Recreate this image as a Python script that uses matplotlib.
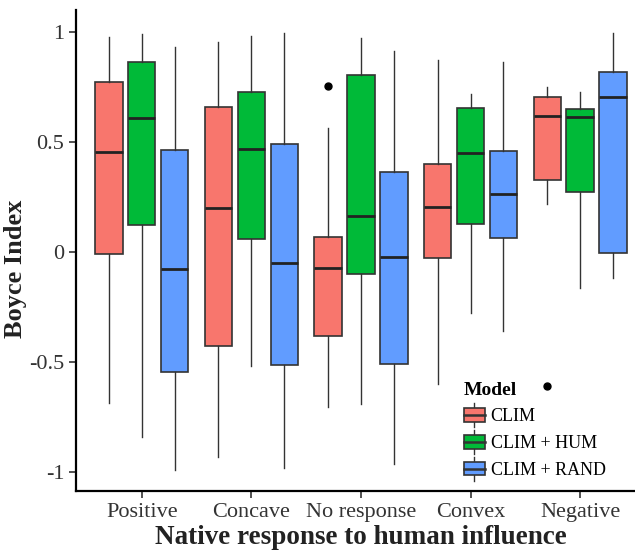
import numpy as np
import matplotlib
matplotlib.use("Agg")
import matplotlib.pyplot as plt
from matplotlib.patches import Rectangle
from matplotlib.lines import Line2D
from matplotlib.legend_handler import HandlerBase

plt.rcParams['font.family'] = ['Liberation Serif', 'DejaVu Serif']

categories = ["Positive", "Concave", "No response", "Convex", "Negative"]
models = ["CLIM", "CLIM + HUM", "CLIM + RAND"]
colors = ["#F8766D", "#00BA38", "#619CFF"]

# box statistics (whisker low, q1, median, q3, whisker high)
clim_low = [-0.689, -0.932, -0.706, -0.601, 0.217]
clim_q1 = [-0.012, -0.427, -0.383, -0.027, 0.326]
clim_med = [0.453, 0.200, -0.076, 0.202, 0.617]
clim_q3 = [0.773, 0.659, 0.068, 0.397, 0.703]
clim_high = [0.977, 0.953, 0.561, 0.870, 0.747]
clim_out = [[], [], [0.755], [], [-0.612]]

hum_low = [-0.844, -0.520, -0.692, -0.280, -0.166]
hum_q1 = [0.120, 0.058, -0.100, 0.125, 0.273]
hum_med = [0.606, 0.468, 0.161, 0.447, 0.611]
hum_q3 = [0.862, 0.725, 0.805, 0.653, 0.650]
hum_high = [0.990, 0.982, 0.970, 0.718, 0.725]
hum_out = [[], [], [], [], []]

rand_low = [-0.992, -0.985, -0.965, -0.359, -0.118]
rand_q1 = [-0.547, -0.514, -0.510, 0.062, -0.007]
rand_med = [-0.077, -0.053, -0.025, 0.264, 0.703]
rand_q3 = [0.461, 0.491, 0.362, 0.458, 0.818]
rand_high = [0.929, 0.995, 0.914, 0.862, 0.995]
rand_out = [[], [], [], [], []]

series = [
    (clim_low, clim_q1, clim_med, clim_q3, clim_high, clim_out),
    (hum_low, hum_q1, hum_med, hum_q3, hum_high, hum_out),
    (rand_low, rand_q1, rand_med, rand_q3, rand_high, rand_out),
]

yticks = [-1, -0.5, 0, 0.5, 1]
ytick_labels = ["-1", "-0.5", "0", "0.5", "1"]


class BoxKey(HandlerBase):
    def create_artists(self, legend, orig_handle, xdescent, ydescent,
                       width, height, fontsize, trans):
        x0, y0 = -xdescent, -ydescent
        face = orig_handle.get_facecolor()
        lo = Line2D([x0 + width / 2] * 2, [y0 - 0.3 * height, y0 + 0.05 * height],
                    color="#333333", lw=1, transform=trans)
        hi = Line2D([x0 + width / 2] * 2, [y0 + 0.95 * height, y0 + 1.3 * height],
                    color="#333333", lw=1, transform=trans)
        box = Rectangle((x0, y0 + 0.05 * height), width, 0.9 * height,
                        facecolor=face, edgecolor="#333333", lw=1.2, transform=trans)
        med = Line2D([x0, x0 + width], [y0 + 0.5 * height] * 2,
                     color="#333333", lw=1.8, transform=trans)
        return [lo, hi, box, med]


fig = plt.figure(figsize=(6.35, 5.54), dpi=100)
ax = fig.add_axes([0.1197, 0.1137, 0.8975, 0.868])

x = np.arange(1, len(categories) + 1)
offsets = [-0.3, 0.0, 0.3]
handles = []
for k, (lo, q1, med, q3, hi, out) in enumerate(series):
    stats = []
    for i in range(len(categories)):
        stats.append(dict(whislo=lo[i], q1=q1[i], med=med[i], q3=q3[i],
                          whishi=hi[i], fliers=out[i]))
    ax.bxp(stats, positions=x + offsets[k], widths=0.25,
           patch_artist=True, showcaps=False, manage_ticks=False,
           boxprops=dict(facecolor=colors[k], edgecolor="#333333", lw=1.2),
           medianprops=dict(color="#222222", lw=2.0),
           whiskerprops=dict(color="#333333", lw=1.0),
           flierprops=dict(marker="o", markerfacecolor="black",
                           markeredgecolor="black", markersize=5))
    handles.append(Rectangle((0, 0), 1, 1, facecolor=colors[k]))

ax.set_xlim(0.4, 5.6)
ax.set_ylim(-1.0885, 1.0985)
ax.set_xticks(x)
ax.set_xticklabels(categories, fontsize=16, color="#333333")
ax.set_yticks(yticks)
ax.set_yticklabels(ytick_labels, fontsize=16, color="#333333")
ax.tick_params(direction="out", length=5, width=1.2, color="#333333")

for s in ["top", "right"]:
    ax.spines[s].set_visible(False)
for s in ["left", "bottom"]:
    ax.spines[s].set_linewidth(1.6)
    ax.spines[s].set_color("black")

ax.set_xlabel("Native response to human influence", fontsize=19.5,
              fontweight="bold", color="#222222", labelpad=2)
ax.set_ylabel("Boyce Index", fontsize=19, fontweight="bold", color="#222222")
ax.yaxis.set_label_coords(-0.086, 0.4615)

leg = ax.legend(handles, models, handler_map={Rectangle: BoxKey()},
                title="Model", loc="upper left",
                bbox_to_anchor=(451 / 635, 1 - 369 / 554),
                bbox_transform=fig.transFigure, frameon=False,
                fontsize=13, handlelength=1.2, handleheight=0.9,
                handletextpad=0.3, labelspacing=0.5, borderpad=0.2)
leg.get_title().set_fontweight("bold")
leg.get_title().set_fontsize(14)
leg._legend_box.align = "left"

fig.savefig("out.png", dpi=100)
